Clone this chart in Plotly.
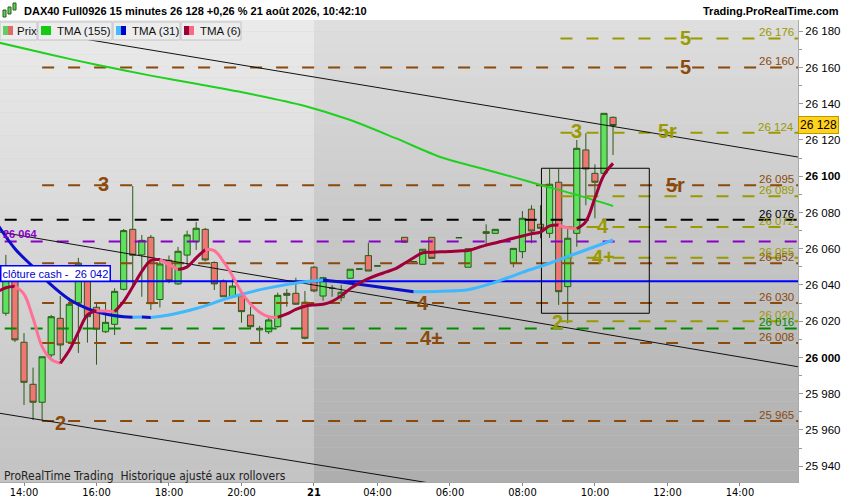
import plotly.graph_objects as go

# ---------------- data ----------------
# x = 15-minute bar index; 0 = 14:00 on the 20th, 32 = first bar of the 21st
bar_index = [-2, -1, 0, 1, 2, 3, 4, 5, 6, 7, 8, 9, 10, 11, 12, 13, 14, 15, 16, 17, 18, 19, 20,
             21, 22, 23, 24, 25, 26, 27, 28, 29, 30, 31,
             32, 33, 34, 35, 36, 37, 38, 39, 42, 43, 44, 45, 48, 49, 50, 51, 52,
             54, 55, 56, 57, 58, 59, 60, 61, 62, 63, 64, 65]
opens = [26024.4, 26046.0, 26008.4, 25985.2, 25975.3, 26001.4, 26021.6, 26008.4, 26030.0, 26046.0,
         26027.7, 26014.2, 26018.3, 26037.6, 26070.7, 26056.6, 26066.3, 26032.0, 26053.6, 26040.6,
         26056.5, 26063.9, 26070.7, 26052.4, 26042.2, 26033.5, 26034.1, 26023.4, 26015.2, 26014.2,
         26017.0, 26035.4, 26035.4, 26030.5,
         26049.8, 26033.9, 26038.2, 26033.0, 26043.7, 26048.8, 26056.2, 26050.5, 26066.3, 26052.9,
         26051.4, 26066.3, 26066.1, 26049.8, 26060.6, 26069.4, 26068.5,
         26052.0, 26058.4, 26081.8, 26073.5, 26068.5, 26096.7, 26039.1, 26068.5, 26114.5, 26101.6,
         26101.6, 26132.5]
highs = [26056.6, 26048.0, 26013.4, 25994.4, 26000.4, 26023.5, 26033.9, 26033.0, 26055.0, 26050.0,
         26030.0, 26030.0, 26038.2, 26070.9, 26094.6, 26067.6, 26067.6, 26053.6, 26056.3, 26061.0,
         26070.0, 26074.7, 26071.5, 26053.0, 26043.0, 26043.7, 26034.5, 26028.0, 26017.4, 26023.4,
         26035.8, 26037.8, 26044.0, 26036.7,
         26050.5, 26044.5, 26040.0, 26040.0, 26048.7, 26048.8, 26063.3, 26050.5, 26066.3, 26052.9,
         26059.7, 26066.3, 26066.1, 26060.0, 26060.6, 26073.5, 26070.7,
         26060.2, 26080.8, 26084.0, 26084.0, 26104.0, 26104.0, 26071.6, 26120.0, 26123.7, 26106.6,
         26134.7, 26133.0]
lows = [26023.0, 26008.5, 25973.8, 25965.5, 25965.5, 26000.0, 25998.6, 26008.0, 26002.5, 26008.2,
        25996.0, 26013.5, 26012.4, 26037.0, 26040.0, 26033.5, 26026.2, 26027.6, 26041.0, 26040.0,
        26051.0, 26059.3, 26053.0, 26037.2, 26033.5, 26033.0, 26019.2, 26015.6, 26007.8, 26013.0,
        26016.5, 26028.0, 26029.0, 26010.0,
        26036.0, 26031.3, 26033.5, 26031.0, 26043.7, 26048.8, 26047.7, 26050.5, 26063.6, 26052.9,
        26051.4, 26054.7, 26066.1, 26049.8, 26060.6, 26062.0, 26068.5,
        26049.8, 26054.7, 26063.0, 26065.8, 26066.0, 26029.0, 26018.9, 26061.1, 26084.0, 26076.8,
        26101.6, 26111.7]
closes = [26047.0, 26009.7, 25986.3, 25975.3, 26000.4, 26022.5, 26006.9, 26029.4, 26052.0, 26022.5,
          26015.6, 26019.4, 26036.5, 26070.0, 26056.4, 26064.6, 26029.7, 26051.6, 26042.3, 26058.6,
          26067.6, 26071.3, 26053.8, 26040.6, 26033.5, 26039.4, 26025.3, 26017.0, 26016.1, 26020.7,
          26034.3, 26034.3, 26029.4, 26010.6,
          26036.7, 26044.0, 26038.2, 26036.0, 26048.7, 26048.8, 26047.7, 26050.5, 26063.6, 26052.9,
          26059.7, 26054.7, 26066.1, 26060.0, 26060.6, 26068.5, 26070.7,
          26060.2, 26076.8, 26069.8, 26071.3, 26095.6, 26036.3, 26065.8, 26115.4, 26104.0, 26096.7,
          26134.7, 26128.0]

tma155_x = [-3, 3, 8, 14, 19, 25, 31, 36, 41, 46, 50, 54, 57, 61, 65]
tma155_y = [26174.0, 26167.0, 26161.5, 26155.5, 26151.0, 26145.4, 26138.8, 26131.0, 26121.0,
            26110.5, 26105.0, 26099.5, 26095.2, 26089.7, 26083.6]

tma31_x = [-3, -1, 1, 3, 5, 7, 9, 11, 12, 13, 14, 16, 19, 23, 27, 31, 33, 36, 39, 43, 46, 49,
           52, 55, 58, 61, 65]
tma31_y = [26074.0, 26060.0, 26050.0, 26040.0, 26032.0, 26027.0, 26024.0, 26022.5, 26022.2, 26022.3,
           26022.1, 26023.4, 26027.0, 26033.5, 26038.4, 26041.8, 26042.8, 26041.0, 26039.0, 26036.3,
           26036.6, 26037.4, 26041.5, 26047.0, 26052.0, 26057.5, 26064.8]

tma6_x = list(range(-3, 66))
tma6_y = [26036.0, 26038.5, 26039.3, 26035.0, 26021.6, 26006.0, 25999.0, 25996.8, 26004.0, 26014.0,
          26023.5, 26025.8, 26025.6, 26025.3, 26031.0, 26039.0, 26047.5, 26053.5, 26054.0, 26051.2,
          26048.5, 26050.0, 26055.0, 26059.5, 26059.0, 26053.0, 26045.0, 26036.0, 26029.5, 26025.0,
          26022.5, 26022.2, 26024.0, 26026.5, 26028.3, 26029.0, 26029.4, 26031.0, 26034.0, 26038.0,
          26041.0, 26043.5, 26045.5, 26047.2, 26049.0, 26052.0, 26055.0, 26057.8, 26058.0, 26058.3,
          26058.5, 26058.8, 26059.0, 26060.5, 26062.0, 26063.2, 26064.5, 26065.8, 26067.0, 26068.3,
          26069.2, 26072.6, 26073.1, 26071.5, 26071.0, 26075.0, 26088.0, 26100.7, 26107.1]

# horizontal levels
brown_levels = [26160, 26095, 26052, 26030, 26008, 25965]
olive_levels = [26176, 26124, 26089, 26072, 26055, 26020]
black_level = 26076
purple_level = 26064
green_level = 26016
cash_close = 26042

# wave labels: (text, bar, price, colour key)
wave_labels = [("3", 8.8, 26095.6, "brown"), ("2", 4.0, 25964.0, "brown"), ("4", 44.0, 26030.0, "brown"),
               ("4+", 45.0, 26011.0, "brown"), ("5r", 71.9, 26095.0, "brown"), ("5", 73.0, 26160.3, "brown"),
               ("5", 73.0, 26176.3, "olive"), ("5r", 71.0, 26125.2, "olive"), ("3", 61.0, 26124.7, "olive"),
               ("4", 63.9, 26072.6, "olive"), ("4+", 63.9, 26055.2, "olive"), ("2", 58.9, 26019.8, "olive")]

# trend-channel lines: endpoints (bar, price)
channel_lines = [((-2.65, 26183.4), (85.4, 26110.6)),
                 ((-2.65, 26069.2), (85.4, 25994.9)),
                 ((-2.65, 25969.2), (85.4, 25897.8))]
box_bars = (57.1, 69.0)
box_prices = (26024.4, 26104.4)

tick_bars = [0, 8, 16, 24, 32, 39, 47, 55, 63, 71, 79]
tick_text = ["14:00", "16:00", "18:00", "20:00", "<b>21</b>", "04:00", "06:00", "08:00", "10:00",
             "12:00", "14:00"]
y_ticks = list(range(25940, 26181, 20))
day_start_bar = 32
last_price = 26128

# ---------------- style ----------------
X_RANGE = [-2.648, 85.41]
Y_RANGE = [25931.3, 26186.2]
BROWN = "#8b4a0c"
OLIVE = "#9a9a00"
COL = {"brown": BROWN, "olive": OLIVE}
FONT = "Liberation Sans, Arial, sans-serif"
NARROW = "Liberation Sans Narrow, DejaVu Sans Condensed, Arial Narrow, sans-serif"
DASH = "12px,14px"


def fmt(v):
    v = int(round(v))
    return f"{v // 1000} {v % 1000:03d}"


fig = go.Figure()

# background gradients (two sessions)
shapes = []
bpos = (day_start_bar - X_RANGE[0]) / (X_RANGE[1] - X_RANGE[0])
N = 40
for i in range(N):
    t = i / (N - 1)
    y0 = 1 - (i + 1) / N
    y1 = 1 - i / N
    cl = int(234 - 38 * t)
    cr = int(222 - 48 * t)
    shapes.append(dict(type="rect", xref="paper", yref="paper", x0=0, x1=bpos, y0=y0, y1=y1,
                       fillcolor=f"rgb({cl},{cl},{cl})", line=dict(width=0), layer="below"))
    shapes.append(dict(type="rect", xref="paper", yref="paper", x0=bpos, x1=1, y0=y0, y1=y1,
                       fillcolor=f"rgb({cr},{cr},{cr})", line=dict(width=0), layer="below"))


def hline(y, x0, color, dash=DASH, width=2):
    fig.add_trace(go.Scatter(x=[x0, 90], y=[y, y], mode="lines",
                             line=dict(color=color, width=width, dash=dash),
                             hoverinfo="skip", showlegend=False))


for v in brown_levels:
    hline(v, 2, BROWN)
for v in olive_levels:
    hline(v, 59.2, OLIVE)
hline(black_level, -5, "#000000")
hline(purple_level, -5, "#8a00c8")
hline(green_level, -5, "#008a00")
hline(cash_close, -5, "#0000ff", dash="solid")

# channel lines
for (a, b) in channel_lines:
    fig.add_trace(go.Scatter(x=[a[0], b[0]], y=[a[1], b[1]], mode="lines",
                             line=dict(color="#111111", width=1), hoverinfo="skip", showlegend=False))

# box
fig.add_trace(go.Scatter(x=[box_bars[0], box_bars[1], box_bars[1], box_bars[0], box_bars[0]],
                         y=[box_prices[0], box_prices[0], box_prices[1], box_prices[1], box_prices[0]],
                         mode="lines", line=dict(color="#000000", width=1), hoverinfo="skip",
                         showlegend=False))

# TMA 155
fig.add_trace(go.Scatter(x=tma155_x, y=tma155_y, mode="lines",
                         line=dict(color="#1fd01f", width=2, shape="spline", smoothing=0.8),
                         hoverinfo="skip", showlegend=False))


def colored_runs(xs, ys, up, down, width, shape="linear"):
    n = len(xs)
    i = 0
    while i < n - 1:
        d = ys[i + 1] >= ys[i]
        j = i
        while j < n - 1 and (ys[j + 1] >= ys[j]) == d:
            j += 1
        fig.add_trace(go.Scatter(x=xs[i:j + 1], y=ys[i:j + 1], mode="lines",
                                 line=dict(color=up if d else down, width=width, shape=shape),
                                 hoverinfo="skip", showlegend=False))
        i = j


colored_runs(tma31_x, tma31_y, "#3fb8ff", "#0a0fc8", 3, "spline")

# candles
fig.add_trace(go.Candlestick(x=bar_index, open=opens, high=highs, low=lows, close=closes,
                             increasing=dict(line=dict(color="#2b5a18", width=1), fillcolor="#5fe05f"),
                             decreasing=dict(line=dict(color="#2b5a18", width=1), fillcolor="#f07575"),
                             whiskerwidth=0, hoverinfo="skip", showlegend=False))

colored_runs(tma6_x, tma6_y, "#a0003a", "#ff6f96", 3, "spline")

annotations = []
# right value labels
value_labels = [(v, BROWN) for v in brown_levels] + [(v, OLIVE) for v in olive_levels] + \
               [(black_level, "#000000"), (green_level, "#008a00")]
for v, c in value_labels:
    annotations.append(dict(xref="paper", x=1, xanchor="right", xshift=-2, y=v, yref="y",
                            yanchor="bottom", yshift=-2, text=fmt(v), showarrow=False,
                            font=dict(family=FONT, size=11.5, color=c)))

# wave labels
for txt, xb, yv, ck in wave_labels:
    annotations.append(dict(x=xb, y=yv, xref="x", yref="y", text=f"<b>{txt}</b>", showarrow=False,
                            font=dict(family=FONT, size=20, color=COL[ck])))

# purple left label
annotations.append(dict(xref="paper", x=0, xanchor="left", xshift=1, y=purple_level, yref="y",
                        yanchor="bottom", yshift=-1, text=f"<b>{fmt(purple_level)}</b>",
                        showarrow=False, font=dict(family=FONT, size=11, color="#8a00c8")))
# cash close label
annotations.append(dict(xref="paper", x=0, xanchor="left", y=cash_close, yref="y", yanchor="bottom",
                        yshift=-1, text=f"clôture cash -  {fmt(cash_close)}", showarrow=False,
                        bgcolor="#ffffff", bordercolor="#0000ff", borderwidth=1.5, borderpad=1,
                        font=dict(family=FONT, size=11, color="#0000cc")))
# last price box
annotations.append(dict(xref="paper", x=1, xanchor="left", xshift=0, y=last_price, yref="y",
                        text=fmt(last_price), showarrow=False, bgcolor="#ffd21e",
                        bordercolor="#b89a00", borderwidth=1, borderpad=1,
                        font=dict(family=FONT, size=12, color="#000000")))

PW = 798.0
PH = 462.0


def xp(px):
    return px / PW


def yp(py):
    return (482.0 - py) / PH


# title
annotations.append(dict(xref="paper", yref="paper", x=xp(22), y=yp(11), xanchor="left",
                        yanchor="middle", showarrow=False,
                        text="<b>DAX40 Full0926 15 minutes 26 128 +0,26 % 21 août 2026, 10:42:10</b>",
                        font=dict(family=FONT, size=11, color="#000000")))
annotations.append(dict(xref="paper", yref="paper", x=xp(841), y=yp(11), xanchor="right",
                        yanchor="middle", showarrow=False, text="<b>Trading.ProRealTime.com</b>",
                        font=dict(family=FONT, size=11, color="#000000")))
annotations.append(dict(xref="paper", yref="paper", x=xp(2), y=yp(476), xanchor="left",
                        yanchor="middle", showarrow=False,
                        text="ProRealTime Trading  Historique ajusté aux rollovers",
                        font=dict(family=NARROW, size=12, color="#222222")))

# small candle icon in title
for (x0, x1, y0, y1) in [(3, 6, 10, 17), (8, 11, 7, 14), (13, 16, 3, 10)]:
    shapes.append(dict(type="rect", xref="paper", yref="paper", x0=xp(x0), x1=xp(x1), y0=yp(y1),
                       y1=yp(y0), fillcolor="#5fd05f", line=dict(color="#2b5a18", width=1)))

# legend boxes
legend_boxes = [(0, 37, "Prix", ["#5fd05f", "#e06a6a"], 15),
                (38, 112, "TMA (155)", ["#11cc11", "#11cc11"], 55),
                (113, 180, "TMA (31)", ["#44bbff", "#0000cc"], 130),
                (181, 241, "TMA (6)", ["#990033", "#ff6688"], 198)]
for (a, b, txt, cols, tx) in legend_boxes:
    shapes.append(dict(type="rect", xref="paper", yref="paper", x0=xp(a), x1=xp(b), y0=yp(40),
                       y1=yp(22), fillcolor="#ededed", line=dict(color="#c4c4c4", width=1)))
    shapes.append(dict(type="rect", xref="paper", yref="paper", x0=xp(a + 3), x1=xp(a + 8),
                       y0=yp(35), y1=yp(26), fillcolor=cols[0], line=dict(width=0)))
    shapes.append(dict(type="rect", xref="paper", yref="paper", x0=xp(a + 8), x1=xp(a + 13),
                       y0=yp(35), y1=yp(26), fillcolor=cols[1], line=dict(width=0)))
    annotations.append(dict(xref="paper", yref="paper", x=xp(tx), y=yp(31), xanchor="left",
                            yanchor="middle", showarrow=False, text=txt,
                            font=dict(family=FONT, size=11.5, color="#111111")))

y_text = [f"<b>{fmt(v)}</b>" if v in (26000, 26100) else fmt(v) for v in y_ticks]

fig.update_layout(
    width=850, height=500,
    margin=dict(l=0, r=52, t=20, b=18, autoexpand=False),
    paper_bgcolor="#ffffff", plot_bgcolor="#d0d0d0",
    showlegend=False,
    boxgap=0.15, boxgroupgap=0.2,
    shapes=shapes, annotations=annotations,
    xaxis=dict(range=X_RANGE, rangeslider=dict(visible=False), showgrid=False, zeroline=False,
               tickmode="array", tickvals=tick_bars, ticktext=tick_text, ticks="outside", ticklen=3,
               tickcolor="#888888", showline=True, linecolor="#aaaaaa", linewidth=1,
               ticklabelstandoff=-3,
               tickfont=dict(family=NARROW, size=11, color="#000000")),
    yaxis=dict(range=Y_RANGE, side="right", showgrid=False, zeroline=False, tickmode="array",
               tickvals=y_ticks, ticktext=y_text, ticks="outside", ticklen=4, tickcolor="#999999",
               showline=True, linecolor="#aaaaaa", linewidth=1,
               minor=dict(ticks="outside", dtick=10, ticklen=3, tickcolor="#999999", showgrid=False),
               tickfont=dict(family=FONT, size=11.5, color="#000000")),
)

fig.write_html("out.html", config={"displayModeBar": False},
               post_script="document.body.style.margin='0px';document.body.style.padding='0px';")
